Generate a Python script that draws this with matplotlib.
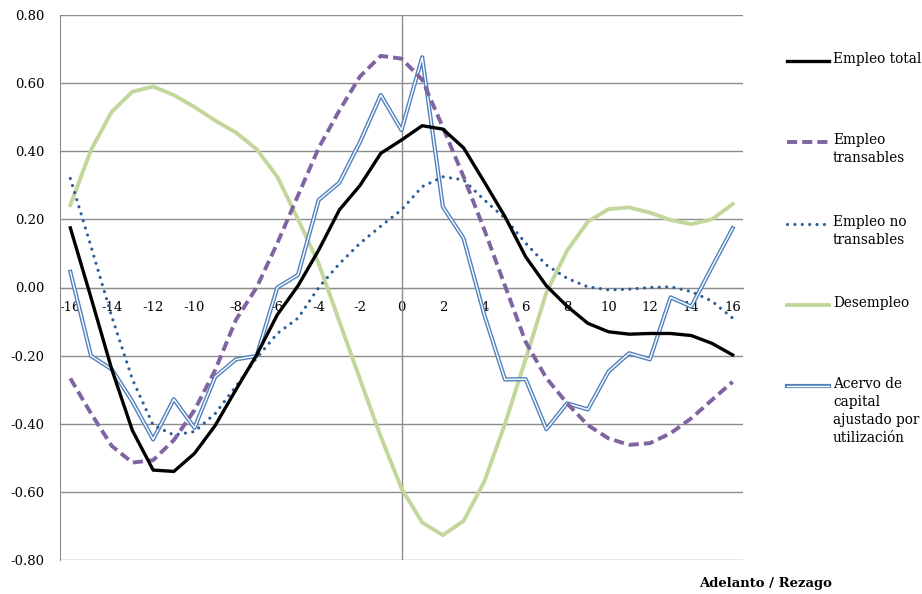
import matplotlib
matplotlib.use('Agg')
import matplotlib.pyplot as plt
from matplotlib.lines import Line2D

plt.rcParams['font.family'] = ['DejaVu Serif']

# Adelanto / rezago (categorias)
lags = list(range(-16, 17))

empleo_total = [0.175, -0.03, -0.24, -0.42, -0.536, -0.54, -0.487, -0.405, -0.30, -0.198,
                -0.08, 0.005, 0.11, 0.228, 0.30, 0.394, 0.433,
                0.475, 0.465, 0.41, 0.31, 0.208, 0.09, 0.005, -0.055, -0.105, -0.13,
                -0.137, -0.135, -0.135, -0.141, -0.164, -0.198]
empleo_transables = [-0.267, -0.37, -0.465, -0.514, -0.507, -0.448, -0.36, -0.242, -0.095, 0.0,
                     0.13, 0.27, 0.41, 0.52, 0.62, 0.68, 0.672,
                     0.61, 0.47, 0.325, 0.17, 0.005, -0.16, -0.266, -0.34, -0.404, -0.443,
                     -0.462, -0.457, -0.428, -0.384, -0.33, -0.277]
empleo_no_transables = [0.32, 0.12, -0.085, -0.27, -0.404, -0.433, -0.423, -0.37, -0.29, -0.207,
                        -0.135, -0.09, 0.0, 0.07, 0.13, 0.18, 0.228,
                        0.296, 0.325, 0.316, 0.257, 0.203, 0.13, 0.066, 0.027, 0.002, -0.007,
                        -0.005, 0.0, 0.002, -0.012, -0.04, -0.09]
desempleo = [0.242, 0.404, 0.516, 0.575, 0.59, 0.565, 0.53, 0.49, 0.455, 0.406,
             0.325, 0.20, 0.07, -0.10, -0.27, -0.438, -0.59,
             -0.69, -0.727, -0.685, -0.57, -0.40, -0.21, -0.015, 0.108, 0.193, 0.23,
             0.235, 0.22, 0.198, 0.186, 0.20, 0.245]
acervo_capital = [0.046, -0.201, -0.24, -0.335, -0.446, -0.328, -0.412, -0.262, -0.211, -0.201,
                  0.0, 0.037, 0.257, 0.308, 0.428, 0.565, 0.462,
                  0.676, 0.237, 0.144, -0.08, -0.27, -0.269, -0.416, -0.34, -0.358, -0.247,
                  -0.193, -0.211, -0.029, -0.056, 0.06, 0.174]

y_ticks = [-0.8, -0.6, -0.4, -0.2, 0.0, 0.2, 0.4, 0.6, 0.8]
y_labels = ['-0.80', '-0.60', '-0.40', '-0.20', '0.00', '0.20', '0.40', '0.60', '0.80']
x_ticks = [-16, -14, -12, -10, -8, -6, -4, -2, 0, 2, 4, 6, 8, 10, 12, 14, 16]

names = ['Empleo total', 'Empleo\ntransables', 'Empleo no\ntransables', 'Desempleo',
         'Acervo de\ncapital\najustado por\nutilización']

GRID = '#8c8c8c'
PURPLE = '#8064a2'
DOTBLUE = '#2e5f98'
GREEN = '#c3d69b'
BLUE = '#4f81bd'

fig = plt.figure(figsize=(9.22, 5.94), dpi=100)
ax = fig.add_axes([60 / 922, 1 - 560 / 594, 683 / 922, 545 / 594])

ax.set_xlim(-16.5, 16.5)
ax.set_ylim(-0.8, 0.8)
ax.set_yticks(y_ticks)
ax.set_yticklabels(y_labels)
ax.set_xticks(x_ticks)
ax.set_xticklabels([str(v) for v in x_ticks])
ax.yaxis.grid(True, color=GRID, linewidth=1.0)
ax.set_axisbelow(True)
ax.tick_params(axis='y', length=0, pad=11, labelsize=9.5)
ax.tick_params(axis='x', length=0, pad=10, labelsize=9.5)

for s in ['top', 'right']:
    ax.spines[s].set_visible(False)
ax.spines['left'].set_color(GRID)
ax.spines['bottom'].set_position(('data', 0))
ax.spines['bottom'].set_color(GRID)
ax.axvline(0, color=GRID, linewidth=1.0, zorder=1)

ax.plot(lags, desempleo, color=GREEN, linewidth=2.8, zorder=3)
ax.plot(lags, acervo_capital, color=BLUE, linewidth=3.0, zorder=4)
ax.plot(lags, acervo_capital, color='white', linewidth=1.0, zorder=4)
ax.plot(lags, empleo_no_transables, color=DOTBLUE, linewidth=2.3,
        linestyle=(0, (0.01, 2.3)), dash_capstyle='round', zorder=5)
ax.plot(lags, empleo_transables, color=PURPLE, linewidth=2.8,
        linestyle=(0, (2.6, 1.3)), zorder=6)
ax.plot(lags, empleo_total, color='black', linewidth=2.4, zorder=7)

# leyenda a la derecha
leg_y = [61, 142, 224, 305, 386]
styles = [dict(color='black', linewidth=2.4),
          dict(color=PURPLE, linewidth=2.8, linestyle=(0, (2.6, 1.3))),
          dict(color=DOTBLUE, linewidth=2.3, linestyle=(0, (0.01, 2.3)), dash_capstyle='round'),
          dict(color=GREEN, linewidth=2.8),
          dict(color=BLUE, linewidth=3.0)]
for name, yy, st in zip(names, leg_y, styles):
    fy = 1 - yy / 594
    fig.add_artist(Line2D([787 / 922, 829 / 922], [fy, fy], transform=fig.transFigure, **st))
    if name.startswith('Acervo'):
        fig.add_artist(Line2D([787 / 922, 829 / 922], [fy, fy], transform=fig.transFigure,
                              color='white', linewidth=1.0))
    fig.text(833 / 922, fy + 9 / 594, name, ha='left', va='top', fontsize=9.8, linespacing=1.35)

fig.text(766 / 922, 1 - 583 / 594, 'Adelanto / Rezago', ha='center', va='center',
         fontsize=9.5, fontweight='bold')

fig.savefig('out.png', dpi=100)
